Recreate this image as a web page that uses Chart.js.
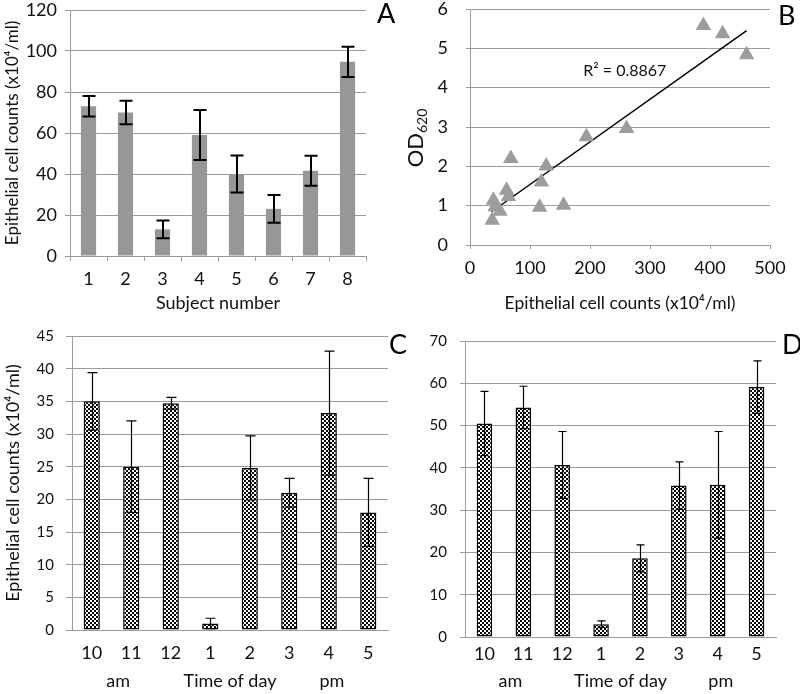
<!DOCTYPE html>
<html><head><meta charset="utf-8">
<script src="https://cdn.jsdelivr.net/npm/chart.js@4"></script>
<style>
body{margin:0;background:#fff;width:800px;height:694px;position:relative;overflow:hidden}
canvas{position:absolute}
.lbl{position:absolute;font-family:Lato,sans-serif;font-size:27px;line-height:27px;color:#000}
</style></head><body>
<canvas id="cA" width="400" height="320" style="left:0;top:0"></canvas>
<canvas id="cB" width="400" height="320" style="left:400px;top:0"></canvas>
<canvas id="cC" width="400" height="374" style="left:0;top:320px"></canvas>
<canvas id="cD" width="400" height="374" style="left:400px;top:320px"></canvas>
<div class="lbl" style="left:377px;top:-1px">A</div>
<div class="lbl" style="left:778px;top:1px">B</div>
<div class="lbl" style="left:389px;top:330px">C</div>
<div class="lbl" style="left:782px;top:330px">D</div>
<script>
// ---- data ----
const subjects = ['1','2','3','4','5','6','7','8'];
const countsA = [73, 70, 13, 59, 40, 23, 41.6, 94.7];
const errA = [5, 5.7, 4.3, 12.2, 9, 6.8, 7.3, 7.4];

const countsB = [389, 421, 461, 261, 194, 68, 127, 119, 61, 64, 39, 42, 50, 116, 156, 37];
const odB = [5.58, 5.37, 4.84, 2.96, 2.75, 2.2, 2.01, 1.6, 1.39, 1.23, 1.14, 0.97, 0.86, 0.96, 1.01, 0.63];
const trendX = [36, 461];
const trendY = [0.845, 5.45];
const r2Text = 'R\u00B2 = 0.8867';

const hours = ['10','11','12','1','2','3','4','5'];
const periodLabels = ['am', 'Time of day', 'pm'];
const countsC = [35, 25, 34.7, 1, 24.8, 21, 33.2, 18];
const errC = [4.4, 7, 0.9, 0.8, 4.9, 2.2, 9.5, 5.2];
const countsD = [50.5, 54.3, 40.7, 3, 18.6, 35.8, 36, 59.1];
const errD = [7.6, 5, 7.9, 0.8, 3.2, 5.6, 12.6, 6.2];

const yTitle = 'Epithelial cell counts (x10\u2074/ml)';

// ---- styling ----
const FONT = 'Lato, "Open Sans", sans-serif';
const GRID = '#9c9c9c';
const TXT = '#111';
Chart.defaults.font.family = FONT;
Chart.defaults.color = TXT;
Chart.defaults.animation = false;

function fixY(w){ return s => { s.width = w; s.paddingTop = 0; s.paddingBottom = 0; }; }
function fixX(h){ return s => { s.height = h; s.paddingLeft = 0; s.paddingRight = 0; }; }

// checker pattern
const pc = document.createElement('canvas'); pc.width = 4; pc.height = 4;
const pctx = pc.getContext('2d');
pctx.fillStyle = '#fff'; pctx.fillRect(0,0,4,4);
pctx.fillStyle = '#000'; pctx.fillRect(0,0,2,2); pctx.fillRect(2,2,2,2);
const checker = document.createElement('canvas').getContext('2d').createPattern(pc, 'repeat');

const errorBars = {
  id: 'errorBars',
  afterDatasetsDraw(chart, args, opts) {
    if (!opts.errors) return;
    const {ctx} = chart; const meta = chart.getDatasetMeta(0); const y = chart.scales.y;
    const vals = chart.data.datasets[0].data;
    ctx.save(); ctx.strokeStyle = '#000'; ctx.lineWidth = opts.width;
    meta.data.forEach((bar, i) => {
      const t = y.getPixelForValue(vals[i] + opts.errors[i]);
      const b = y.getPixelForValue(vals[i] - opts.errors[i]);
      const x = Math.round(bar.x) + (opts.width % 2 ? 0.5 : 0);
      ctx.beginPath();
      ctx.moveTo(x, t); ctx.lineTo(x, b);
      ctx.moveTo(x - opts.cap/2, t); ctx.lineTo(x + opts.cap/2, t);
      ctx.moveTo(x - opts.cap/2, b); ctx.lineTo(x + opts.cap/2, b);
      ctx.stroke();
    });
    ctx.restore();
  }
};

const periodRow = {
  id: 'periodRow',
  afterDraw(chart, args, opts) {
    if (!opts.labels) return;
    const {ctx} = chart; const x = chart.scales.x;
    ctx.save(); ctx.font = '18px ' + FONT; ctx.fillStyle = TXT;
    ctx.textAlign = 'center'; ctx.textBaseline = 'middle';
    opts.labels.forEach((l, i) => ctx.fillText(l, x.getPixelForValue(opts.pos[i]), opts.y));
    ctx.restore();
  }
};

const bExtras = {
  id: 'bExtras',
  afterDraw(chart, args, opts) {
    if (!opts.on) return;
    const {ctx} = chart; const x = chart.scales.x, y = chart.scales.y;
    ctx.save(); ctx.fillStyle = TXT;
    ctx.font = '16px ' + FONT; ctx.textAlign = 'center'; ctx.textBaseline = 'middle';
    ctx.fillText(r2Text, x.getPixelForValue(258), y.getPixelForValue(4.44));
    // rotated OD620 title
    ctx.translate(16, 138); ctx.rotate(-Math.PI/2);
    ctx.textAlign = 'left'; ctx.textBaseline = 'middle';
    ctx.font = '22px ' + FONT;
    const w1 = ctx.measureText('OD').width;
    ctx.font = '14px ' + FONT;
    const w2 = ctx.measureText('620').width;
    const start = -(w1 + w2) / 2;
    ctx.font = '22px ' + FONT; ctx.fillText('OD', start, 0);
    ctx.font = '14px ' + FONT; ctx.fillText('620', start + w1, 6);
    ctx.restore();
  }
};
Chart.register(errorBars, periodRow, bExtras);

// ---- A ----
new Chart(document.getElementById('cA'), {
  type: 'bar',
  data: { labels: subjects, datasets: [{ data: countsA, backgroundColor: '#979797', barPercentage: 0.41, categoryPercentage: 1 }] },
  options: {
    responsive: false, layout: { padding: { left: 0, right: 34, top: 10, bottom: 0 } },
    plugins: { legend: { display: false }, tooltip: { enabled: false }, errorBars: { errors: errA, width: 2, cap: 13 } },
    scales: {
      x: { afterFit: fixX(64), grid: { offset: true, drawOnChartArea: false, tickLength: 5, color: GRID }, border: { color: GRID },
           ticks: { font: { size: 18, lineHeight: 1 }, padding: 9 },
           title: { display: true, text: 'Subject number', font: { size: 18 }, padding: { top: 0, bottom: 6 } } },
      y: { min: 0, max: 120, afterFit: fixY(70), ticks: { stepSize: 20, font: { size: 18, lineHeight: 1 }, padding: 8 },
           grid: { color: GRID, tickLength: 5 }, border: { color: GRID },
           title: { display: true, text: yTitle, font: { size: 17 }, padding: { top: 2, bottom: 0 } } }
    }
  }
});

// ---- B ----
new Chart(document.getElementById('cB'), {
  type: 'scatter',
  data: { datasets: [
    { data: countsB.map((v, i) => ({ x: v, y: odB[i] })), pointStyle: 'triangle', pointRadius: 9, backgroundColor: '#9d9d9d', borderWidth: 0 },
    { type: 'line', data: trendX.map((v, i) => ({ x: v, y: trendY[i] })), borderColor: '#000', borderWidth: 1.5, pointRadius: 0, fill: false }
  ] },
  options: {
    responsive: false, layout: { padding: { left: 0, right: 30, top: 9, bottom: 0 } },
    plugins: { legend: { display: false }, tooltip: { enabled: false }, bExtras: { on: true } },
    scales: {
      x: { type: 'linear', min: 0, max: 500, afterFit: fixX(75), ticks: { stepSize: 100, font: { size: 18, lineHeight: 1 }, padding: 10 },
           grid: { drawOnChartArea: false, tickLength: 4, color: GRID }, border: { color: GRID },
           title: { display: true, text: yTitle, font: { size: 17.5 }, padding: { top: 0, bottom: 6 } } },
      y: { min: 0, max: 6, afterFit: fixY(70), ticks: { stepSize: 1, font: { size: 18, lineHeight: 1 }, padding: 18 },
           grid: { color: GRID, tickLength: 4 }, border: { color: GRID } }
    }
  }
});

// ---- C / D ----
function timeChart(id, vals, errs, cfg) {
  new Chart(document.getElementById(id), {
    type: 'bar',
    data: { labels: hours, datasets: [{ data: vals, backgroundColor: checker, borderColor: '#000', borderWidth: 1.5, borderSkipped: false, barPercentage: cfg.bp, categoryPercentage: 1 }] },
    options: {
      responsive: false, layout: { padding: { left: 0, right: cfg.right, top: cfg.top, bottom: 0 } },
      plugins: { legend: { display: false }, tooltip: { enabled: false },
        errorBars: { errors: errs, width: 1.2, cap: cfg.cap },
        periodRow: { labels: periodLabels, pos: [0.67, 3.5, 6.08], y: 361 } },
      scales: {
        x: { afterFit: fixX(cfg.xh), grid: { drawOnChartArea: false, drawTicks: false, color: GRID }, border: { color: GRID },
             ticks: { font: { size: 18, lineHeight: 1 }, padding: cfg.xpad } },
        y: { min: 0, max: cfg.max, afterFit: fixY(cfg.yw), ticks: { stepSize: cfg.step, font: { size: 15, lineHeight: 1 }, padding: cfg.ypad },
             grid: { color: GRID, tickLength: cfg.tl }, border: { color: GRID },
             title: { display: cfg.title, text: yTitle, font: { size: 18 }, padding: { top: 2, bottom: 0 } } }
      }
    }
  });
}
timeChart('cC', countsC, errC, { bp: 0.41, right: 12, top: 16, xh: 64, xpad: 14, max: 45, step: 5, yw: 72, ypad: 12, tl: 6, title: true, cap: 10 });
timeChart('cD', countsD, errD, { bp: 0.40, right: 24, top: 21, xh: 57, xpad: 8, max: 70, step: 10, yw: 65, ypad: 13, tl: 5, title: false, cap: 8 });
</script>
</body></html>
